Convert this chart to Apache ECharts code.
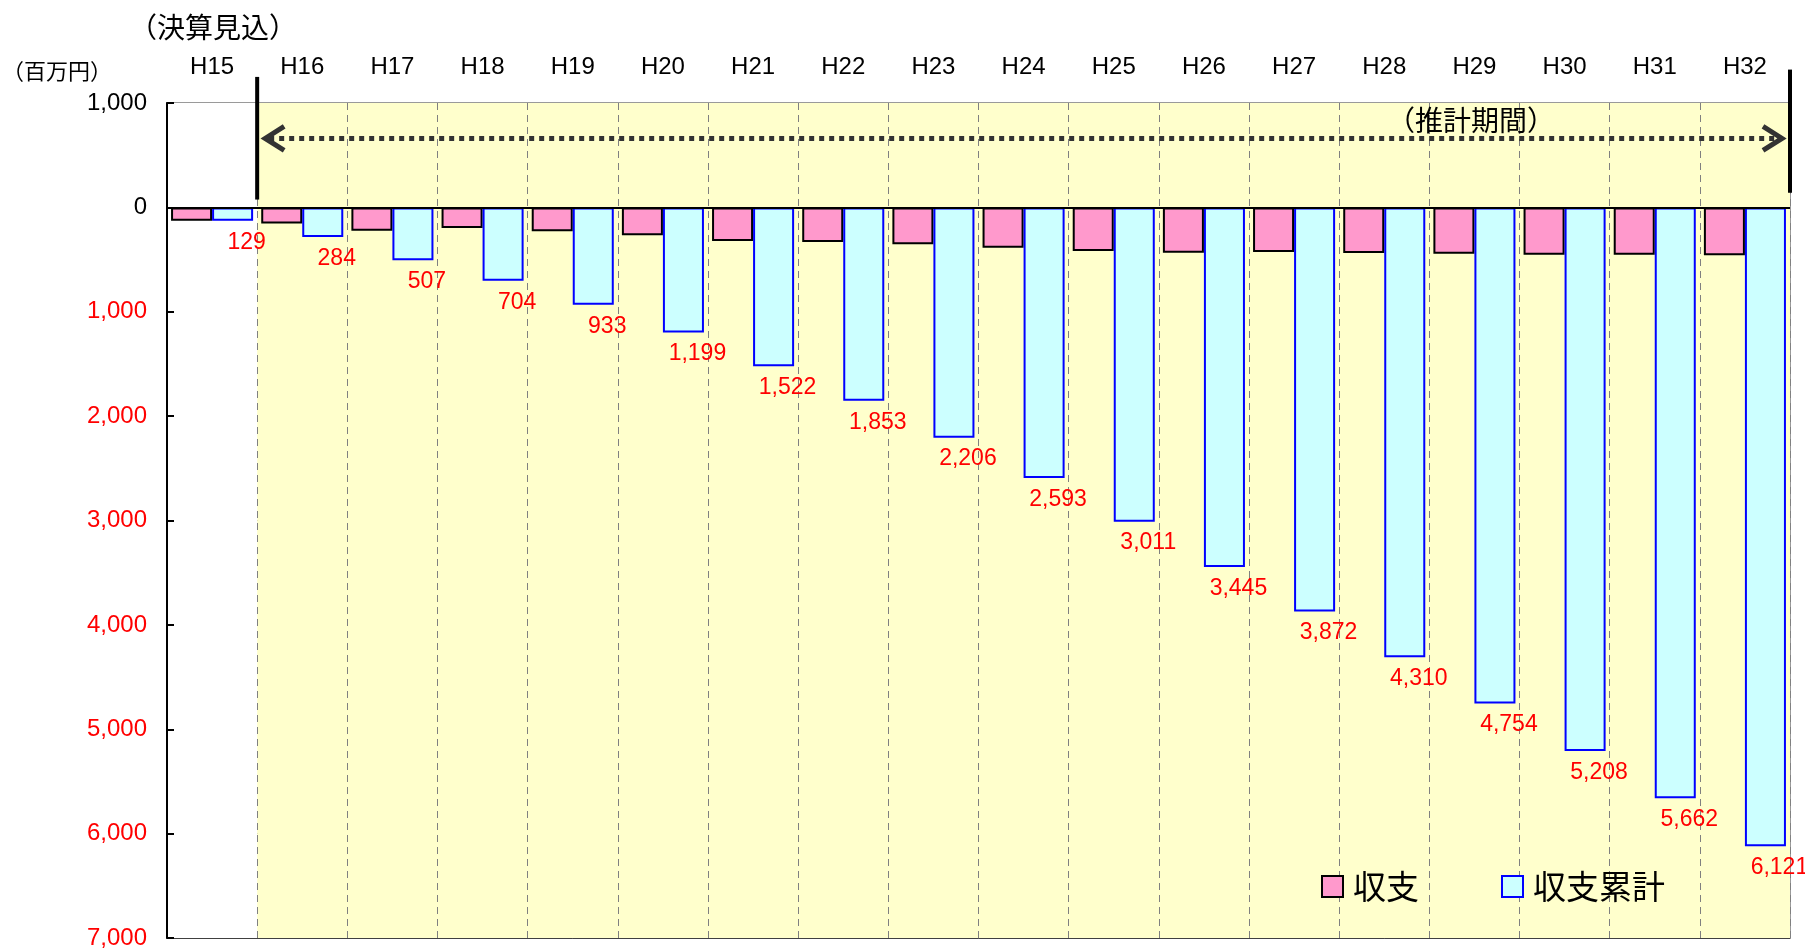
<!DOCTYPE html>
<html><head><meta charset="utf-8">
<script src="https://cdn.jsdelivr.net/npm/echarts@6/dist/echarts.min.js"></script>
<style>html,body{margin:0;padding:0;background:#fff}#c{width:1805px;height:952px}</style>
</head><body><div id="c"></div>
<script>
const categories = ['H15','H16','H17','H18','H19','H20','H21','H22','H23','H24','H25','H26','H27','H28','H29','H30','H31','H32'];
const annualBalance = [129,155,223,197,229,266,323,331,353,387,418,434,427,438,444,454,454,459];
const cumulativeBalance = [129,284,507,704,933,1199,1522,1853,2206,2593,3011,3445,3872,4310,4754,5208,5662,6121];
const yMin = -1000, yMax = 7000, yStep = 1000;
const seriesNames = ['収支','収支累計'];
const estimateLabel = '（推計期間）';
const actualLabel = '（決算見込）';
const unitLabel = '（百万円）';

const NUM = 'Liberation Sans, Arial, sans-serif';
const JP = 'Noto Sans CJK JP, sans-serif';
const fmt = v => Math.abs(v).toLocaleString('en-US');

const areaColors = categories.map((c, i) => i === 0 ? '#FFFFFF' : '#FFFFCC');

const chart = echarts.init(document.getElementById('c'), null, {renderer: 'canvas'});
const option = {
  animation: false,
  backgroundColor: '#FFFFFF',
  grid: {left: 167, right: 15, top: 103, bottom: 14, show: true, backgroundColor: '#FFFFFF', borderColor: '#9a9a9a', borderWidth: 2},
  legend: {
    data: seriesNames, left: 1316, top: 865, icon: 'rect', itemWidth: 21, itemHeight: 21, itemGap: 82,
    textStyle: {fontFamily: JP, fontSize: 33, color: '#000', padding: [0, 0, 0, 5]}
  },
  xAxis: {
    type: 'category', data: categories, position: 'top',
    axisLine: {show: false}, axisTick: {show: false},
    axisLabel: {fontFamily: NUM, fontSize: 24, color: '#000', margin: 24, interval: 0},
    splitLine: {show: true, interval: 0, lineStyle: {color: '#808080', width: 1, type: [7, 5]}},
    splitArea: {show: true, interval: 0, areaStyle: {color: areaColors}}
  },
  yAxis: {
    type: 'value', inverse: true, min: yMin, max: yMax, interval: yStep,
    axisLine: {show: true, lineStyle: {color: '#000', width: 2}},
    axisTick: {show: true, inside: true, length: 7, lineStyle: {color: '#000', width: 2}},
    axisLabel: {
      margin: 20,
      formatter: v => (v <= 0 ? '{k|' : '{r|') + fmt(v) + '}',
      rich: {k: {color: '#000', fontSize: 24, fontFamily: NUM}, r: {color: '#FF0000', fontSize: 24, fontFamily: NUM}}
    },
    splitLine: {show: true, lineStyle: {color: '#404040', width: 1}}
  },
  series: [
    {
      name: seriesNames[0], type: 'bar', data: annualBalance,
      barGap: '0%', barCategoryGap: '9%',
      itemStyle: {color: '#FF99CC', borderColor: '#000000', borderWidth: 2}
    },
    {
      name: seriesNames[1], type: 'bar', data: cumulativeBalance,
      barGap: '0%', barCategoryGap: '9%',
      itemStyle: {color: '#CCFFFF', borderColor: '#0000FF', borderWidth: 2},
      label: {show: true, position: 'bottom', distance: 10, offset: [14, 0], color: '#FF0000', fontFamily: NUM, fontSize: 23, formatter: p => fmt(p.value)},
      markLine: {silent: true, symbol: 'none', label: {show: false}, lineStyle: {color: '#000', width: 2, type: 'solid'}, data: [{yAxis: 0}]}
    }
  ]
};
chart.setOption(option);

const px = (i, v) => chart.convertToPixel({gridIndex: 0}, [i, v]);
const c0 = px(0, 0), c1 = px(1, 0);
const step = c1[0] - c0[0];
const xb = (c0[0] + c1[0]) / 2;
const xr = px(categories.length - 1, 0)[0] + step / 2;
const yA = px(0, -660)[1];
const lTop = px(0, -1250)[1], lBot = px(0, -75)[1];
const rTop = px(0, -1320)[1], rBot = px(0, -140)[1];
const ink = '#333333';
chart.setOption({
  graphic: [
    {type: 'line', z: 100, shape: {x1: xb, y1: lTop, x2: xb, y2: lBot}, style: {stroke: '#000', lineWidth: 4}},
    {type: 'line', z: 100, shape: {x1: xr, y1: rTop, x2: xr, y2: rBot}, style: {stroke: '#000', lineWidth: 4}},
    {type: 'line', z: 100, shape: {x1: xb + 12, y1: yA, x2: xr - 12, y2: yA}, style: {stroke: ink, lineWidth: 5, lineDash: [5, 5], lineCap: 'butt'}},
    {type: 'polyline', z: 100, shape: {points: [[xb + 27, yA - 12], [xb + 8, yA], [xb + 27, yA + 12]]}, style: {stroke: ink, lineWidth: 5, fill: null, lineJoin: 'miter'}},
    {type: 'polyline', z: 100, shape: {points: [[xr - 27, yA - 12], [xr - 8, yA], [xr - 27, yA + 12]]}, style: {stroke: ink, lineWidth: 5, fill: null, lineJoin: 'miter'}},
    {type: 'text', z: 100, x: 1471, y: 120, style: {text: estimateLabel, fontFamily: JP, fontSize: 28, fill: '#000', align: 'center', verticalAlign: 'middle'}},
    {type: 'text', z: 100, x: 213, y: 27, style: {text: actualLabel, fontFamily: JP, fontSize: 28, fill: '#000', align: 'center', verticalAlign: 'middle'}},
    {type: 'text', z: 100, x: 57, y: 71, style: {text: unitLabel, fontFamily: JP, fontSize: 22, fill: '#000', align: 'center', verticalAlign: 'middle'}}
  ]
});
</script></body></html>
